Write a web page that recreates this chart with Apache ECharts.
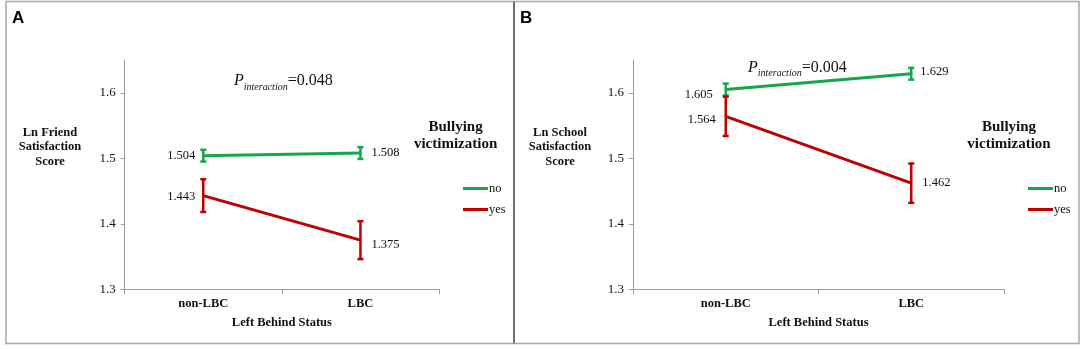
<!DOCTYPE html>
<html>
<head>
<meta charset="utf-8">
<script src="https://cdn.jsdelivr.net/npm/echarts@6/dist/echarts.min.js"></script>
<style>
html,body{margin:0;padding:0;background:#fff;}
#chart{width:1084px;height:349px;}
</style>
</head>
<body>
<div id="chart"></div>
<script>
// ---- data ----
const categories = ['non-LBC', 'LBC'];
const yTicks = [1.3, 1.4, 1.5, 1.6];
const seriesNames = ['no', 'yes'];
// Panel A: Ln Friend Satisfaction Score
const friendNo = [1.504, 1.508];
const friendNoErr = [0.009, 0.009];
const friendYes = [1.443, 1.375];
const friendYesErr = [0.025, 0.029];
// Panel B: Ln School Satisfaction Score
const schoolNo = [1.605, 1.629];
const schoolNoErr = [0.009, 0.009];
const schoolYes = [1.564, 1.462];
const schoolYesErr = [0.030, 0.030];
const pA = '0.048';
const pB = '0.004';

// ---- styles ----
const GREEN = '#14a84a';
const RED = '#c00000';
const SERIF = '"Liberation Serif", "Times New Roman", serif';
const SANS = '"Liberation Sans", Arial, sans-serif';
const AXIS_GRAY = '#9a9a9a';

// label placement (style only)
const labelStyles = {
  A_no:  [{p:'left', d:7, o:[0,0]}, {p:'right', d:10, o:[0,0]}],
  A_yes: [{p:'left', d:7, o:[0,1]}, {p:'right', d:10, o:[0,5]}],
  B_no:  [{p:'left', d:12, o:[0,5]}, {p:'right', d:8, o:[0,-2]}],
  B_yes: [{p:'left', d:9, o:[0,3]}, {p:'right', d:10, o:[0,0]}]
};

function lineSeries(name, vals, color, idx, ls) {
  return {
    type: 'line', name: name, xAxisIndex: idx, yAxisIndex: idx,
    symbol: 'circle', symbolSize: 2, showSymbol: true,
    lineStyle: {color: color, width: 3},
    itemStyle: {color: color},
    z: 3,
    data: vals.map((v, i) => ({
      value: v,
      label: {
        show: true, position: ls[i].p, distance: ls[i].d, offset: ls[i].o,
        formatter: (prm) => prm.value.toFixed(3),
        fontFamily: SERIF, fontSize: 12.5, color: '#111'
      }
    }))
  };
}

function errSeries(name, vals, errs, color, idx) {
  return {
    type: 'custom', name: name, xAxisIndex: idx, yAxisIndex: idx, z: 4,
    encode: {x: 0, y: 1},
    data: vals.map((v, i) => [i, v, errs[i]]),
    renderItem: function (params, api) {
      const x = api.value(0), v = api.value(1), e = api.value(2);
      const hi = api.coord([x, v + e]);
      const lo = api.coord([x, v - e]);
      const cw = 3;
      const st = {stroke: color, lineWidth: 2.5};
      return {
        type: 'group',
        children: [
          {type: 'line', shape: {x1: hi[0], y1: hi[1], x2: lo[0], y2: lo[1]}, style: st},
          {type: 'line', shape: {x1: hi[0] - cw, y1: hi[1], x2: hi[0] + cw, y2: hi[1]}, style: st},
          {type: 'line', shape: {x1: lo[0] - cw, y1: lo[1], x2: lo[0] + cw, y2: lo[1]}, style: st}
        ]
      };
    }
  };
}

function xAxis(idx) {
  return {
    type: 'category', gridIndex: idx, data: categories, boundaryGap: true,
    axisLine: {lineStyle: {color: AXIS_GRAY, width: 1}},
    axisTick: {show: true, length: 5, lineStyle: {color: AXIS_GRAY}},
    axisLabel: {fontFamily: SERIF, fontWeight: 'bold', fontSize: 12.5, color: '#111', margin: 8},
    name: 'Left Behind Status', nameLocation: 'middle', nameGap: 27,
    nameTextStyle: {fontFamily: SERIF, fontWeight: 'bold', fontSize: 12.5, color: '#111'},
    splitLine: {show: false}
  };
}
function yAxis(idx) {
  return {
    type: 'value', gridIndex: idx, min: 1.3, max: 1.65, interval: 0.1,
    axisLine: {show: true, lineStyle: {color: AXIS_GRAY, width: 1}},
    axisTick: {show: true, length: 4, customValues: yTicks, lineStyle: {color: AXIS_GRAY}},
    axisLabel: {customValues: yTicks, formatter: (v) => v.toFixed(1), fontFamily: SERIF, fontSize: 13, color: '#111', margin: 9},
    splitLine: {show: false}
  };
}

function pText(x, y, p) {
  return {
    type: 'text', x: x, y: y, z: 10,
    style: {
      text: '{p|P}{s|interaction}{v|=' + p + '}',
      verticalAlign: 'middle',
      rich: {
        p: {fontFamily: SERIF, fontStyle: 'italic', fontSize: 16, fill: '#111', verticalAlign: 'bottom', lineHeight: 20, padding: [0, 0, 3, 0]},
        s: {fontFamily: SERIF, fontStyle: 'italic', fontSize: 10, fill: '#111', verticalAlign: 'bottom', lineHeight: 20},
        v: {fontFamily: SERIF, fontSize: 16, fill: '#111', verticalAlign: 'bottom', lineHeight: 20, padding: [0, 0, 3, 0]}
      }
    }
  };
}
function centerText(x, y, text, size, bold) {
  return {
    type: 'text', x: x, y: y, z: 10,
    style: {
      text: text, align: 'center', verticalAlign: 'middle',
      font: (bold ? 'bold ' : '') + size + 'px ' + SERIF,
      lineHeight: size + 2, fill: '#111'
    }
  };
}

const option = {
  animation: false,
  backgroundColor: '#fff',
  grid: [
    {left: 124.7, right: 645, top: 60, bottom: 59.7},
    {left: 633, right: 80, top: 60, bottom: 59.7}
  ],
  xAxis: [xAxis(0), xAxis(1)],
  yAxis: [yAxis(0), yAxis(1)],
  legend: [
    {left: 458, top: 177, orient: 'vertical', itemGap: 8, itemWidth: 25, itemHeight: 3, icon: 'rect',
     data: seriesNames, selectedMode: false,
     textStyle: {fontFamily: SERIF, fontSize: 12.5, color: '#111', padding: [0, 0, 0, -4]}},
    {left: 1023, top: 177, orient: 'vertical', itemGap: 8, itemWidth: 25, itemHeight: 3, icon: 'rect',
     data: seriesNames, selectedMode: false,
     textStyle: {fontFamily: SERIF, fontSize: 12.5, color: '#111', padding: [0, 0, 0, -4]}}
  ],
  series: [
    lineSeries('no', friendNo, GREEN, 0, labelStyles.A_no),
    lineSeries('yes', friendYes, RED, 0, labelStyles.A_yes),
    errSeries('no', friendNo, friendNoErr, GREEN, 0),
    errSeries('yes', friendYes, friendYesErr, RED, 0),
    lineSeries('no', schoolNo, GREEN, 1, labelStyles.B_no),
    lineSeries('yes', schoolYes, RED, 1, labelStyles.B_yes),
    errSeries('no', schoolNo, schoolNoErr, GREEN, 1),
    errSeries('yes', schoolYes, schoolYesErr, RED, 1)
  ],
  graphic: [
    {type: 'rect', shape: {x: 6, y: 1.5, width: 1073, height: 342}, style: {fill: 'none', stroke: '#a8a8a8', lineWidth: 1.5}, z: 1},
    {type: 'line', shape: {x1: 514, y1: 1.5, x2: 514, y2: 343.5}, style: {stroke: '#707070', lineWidth: 2}, z: 1},
    {type: 'text', x: 12, y: 10, style: {text: 'A', font: 'bold 17px ' + SANS, fill: '#000'}},
    {type: 'text', x: 520, y: 10, style: {text: 'B', font: 'bold 17px ' + SANS, fill: '#000'}},
    centerText(50, 147, 'Ln Friend\nSatisfaction\nScore', 12.5, true),
    centerText(560, 147, 'Ln School\nSatisfaction\nScore', 12.5, true),
    centerText(455.6, 136, 'Bullying\nvictimization', 15, true),
    centerText(1009, 136, 'Bullying\nvictimization', 15, true),
    pText(234, 82, pA),
    pText(748, 68.5, pB)
  ]
};

const chart = echarts.init(document.getElementById('chart'), null, {renderer: 'canvas'});
chart.setOption(option);
</script>
</body>
</html>
